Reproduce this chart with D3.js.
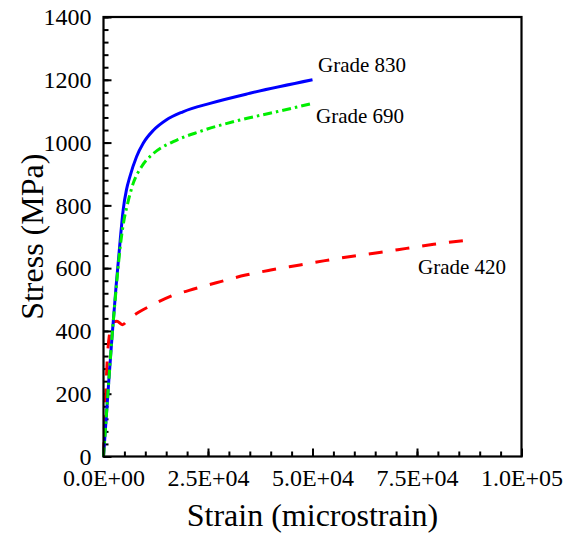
<!DOCTYPE html>
<html>
<head>
<meta charset="utf-8">
<script src="https://cdn.jsdelivr.net/npm/d3@7"></script>
<style>
  html, body { margin: 0; padding: 0; background: #fff; }
  svg { display: block; }
  text { font-family: "Liberation Serif", "Times New Roman", serif; fill: #000; }
</style>
</head>
<body>
<svg id="chart" width="565" height="535"></svg>
<script>
// Stress–strain curves of three reinforcing steel grades
// strain in microstrain, stress in MPa
const grade830Strain = [0, 1000, 2000, 3000, 3500, 4000, 4700, 5500, 6300, 7900, 9500, 12000, 15000, 19000, 25500, 35000, 50000];
const grade830Stress = [0, 190, 375, 540, 615, 690, 785, 850, 891, 955, 998, 1040, 1072, 1098, 1125, 1157, 1200];

const grade690Strain = [0, 1000, 2000, 3000, 4000, 5000, 5600, 7100, 9100, 12000, 16700, 23000, 32700, 41400, 50000];
const grade690Stress = [0, 190, 375, 530, 668, 760, 796, 870, 923, 966, 1003, 1035, 1072, 1098, 1125];

const grade420Strain = [0, 500, 1000, 1500, 2300, 3200, 4500, 6000, 8500, 12000, 16000, 22000, 28000, 34000, 40000, 47000, 53000, 60000, 66000, 72500, 79000, 88000];
const grade420Stress = [0, 190, 330, 395, 428, 431, 420, 437, 460, 485, 510, 535, 557, 578, 594, 610, 624, 639, 650, 663, 676, 690];

const seriesNames = ["Grade 830", "Grade 690", "Grade 420"];

const xTickValues = [0, 25000, 50000, 75000, 100000];
const xTickLabels = ["0.0E+00", "2.5E+04", "5.0E+04", "7.5E+04", "1.0E+05"];
const yTickValues = [0, 200, 400, 600, 800, 1000, 1200, 1400];
const yTickLabels = ["0", "200", "400", "600", "800", "1000", "1200", "1400"];

const xTitle = "Strain (microstrain)";
const yTitle = "Stress (MPa)";

// plot area
const plotLeft = 103.5, plotRight = 521.5, plotTop = 17, plotBottom = 456.5;
const svg = d3.select("#chart");

const x = d3.scaleLinear().domain([0, 100000]).range([plotLeft, plotRight]);
const y = d3.scaleLinear().domain([0, 1400]).range([plotBottom, plotTop]);

const styleTicks = g => {
  g.select(".domain").remove();
  g.selectAll("line").attr("stroke", "#000").attr("stroke-width", 2);
  g.selectAll("text").attr("font-size", 24).attr("font-family", "Liberation Serif").attr("fill", "#000");
};

// minor ticks (inward, unlabeled)
svg.append("g")
  .attr("transform", `translate(0,${plotBottom})`)
  .call(d3.axisBottom(x).tickValues(d3.range(0, 100001, 5000)).tickSizeInner(-5).tickSizeOuter(0).tickFormat(""))
  .call(styleTicks);

svg.append("g")
  .attr("transform", `translate(${plotLeft},0)`)
  .call(d3.axisLeft(y).tickValues(d3.range(0, 1401, 40)).tickSizeInner(-5).tickSizeOuter(0).tickFormat(""))
  .call(styleTicks);

// major ticks with labels
svg.append("g")
  .attr("transform", `translate(0,${plotBottom})`)
  .call(d3.axisBottom(x).tickValues(xTickValues).tickSizeInner(-8).tickSizeOuter(0).tickPadding(12)
    .tickFormat((d, i) => xTickLabels[i]))
  .call(styleTicks);

svg.append("g")
  .attr("transform", `translate(${plotLeft},0)`)
  .call(d3.axisLeft(y).tickValues(yTickValues).tickSizeInner(-8).tickSizeOuter(0).tickPadding(12)
    .tickFormat((d, i) => yTickLabels[i]))
  .call(styleTicks);

// curves
const line = d3.line()
  .x(d => x(d[0]))
  .y(d => y(d[1]))
  .curve(d3.curveMonotoneX);

const curves = [
  { strain: grade420Strain, stress: grade420Stress, color: "#ff0000", dash: "14,13" },
  { strain: grade830Strain, stress: grade830Stress, color: "#0000ff", dash: null },
  { strain: grade690Strain, stress: grade690Stress, color: "#00ee00", dash: "9,4,2.5,4" }
];

curves.forEach(c => {
  svg.append("path")
    .datum(c.strain.map((s, i) => [s, c.stress[i]]))
    .attr("d", line)
    .attr("fill", "none")
    .attr("stroke", c.color)
    .attr("stroke-width", 3)
    .attr("stroke-dasharray", c.dash);
});

// plot frame
svg.append("rect")
  .attr("x", plotLeft).attr("y", plotTop)
  .attr("width", plotRight - plotLeft).attr("height", plotBottom - plotTop)
  .attr("fill", "none").attr("stroke", "#000").attr("stroke-width", 2.2);

// curve labels
const labelPos = [
  { text: seriesNames[0], x: 318, y: 72 },
  { text: seriesNames[1], x: 316, y: 123 },
  { text: seriesNames[2], x: 418, y: 274 }
];
svg.selectAll("text.label")
  .data(labelPos)
  .join("text")
  .attr("class", "label")
  .attr("x", d => d.x).attr("y", d => d.y)
  .attr("font-size", 21)
  .text(d => d.text);

// axis titles
svg.append("text")
  .attr("x", (plotLeft + plotRight) / 2).attr("y", 526)
  .attr("text-anchor", "middle")
  .attr("font-size", 32)
  .text(xTitle);

svg.append("text")
  .attr("transform", `translate(43,${(plotTop + plotBottom) / 2}) rotate(-90)`)
  .attr("text-anchor", "middle")
  .attr("font-size", 32)
  .text(yTitle);
</script>
</body>
</html>
